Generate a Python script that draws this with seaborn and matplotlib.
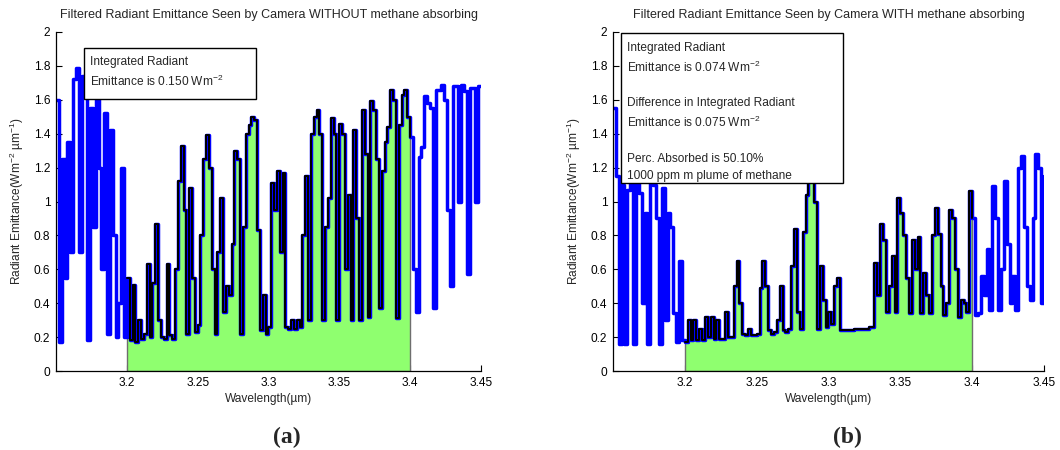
import numpy as np
import pandas as pd
import matplotlib
matplotlib.use("Agg")
import matplotlib.pyplot as plt
import seaborn as sns
from matplotlib.patches import Rectangle
from matplotlib.ticker import FuncFormatter

# ---------------- data ----------------
wavelength = np.round(np.linspace(3.15, 3.45, 151), 3)

emit_without = np.array([
    # 3.150 - 3.200
    1.60, 0.17, 1.25, 0.55, 1.35, 0.70, 1.72, 1.79, 0.70, 1.74,
    1.62, 0.18, 1.55, 0.85, 1.62, 1.20, 0.60, 1.52, 0.22, 1.42,
    0.80, 0.20, 0.40, 1.20, 0.20, 0.55,
    # 3.202 - 3.300
    0.18, 0.51, 0.17, 0.30, 0.19, 0.22, 0.63, 0.20, 0.52, 0.87,
    0.30, 0.20, 0.19, 0.63, 0.21, 0.19, 0.60, 1.12, 1.33, 0.95,
    0.22, 1.08, 0.55, 0.23, 0.27, 0.80, 1.25, 1.39, 1.20, 0.60,
    0.22, 0.70, 1.02, 0.35, 0.50, 0.45, 0.75, 1.30, 1.25, 0.22,
    0.85, 1.40, 1.45, 1.50, 1.48, 0.83, 0.24, 0.45, 0.22, 0.26,
    # 3.302 - 3.450
    1.11, 0.95, 1.18, 0.70, 1.17, 0.26, 0.25, 0.30, 0.25, 0.30,
    0.26, 0.80, 1.15, 0.30, 1.40, 1.50, 1.54, 1.40, 0.30, 0.85,
    1.02, 1.49, 1.40, 0.30, 1.46, 1.40, 0.60, 1.04, 0.30, 1.42,
    0.90, 0.30, 1.54, 1.28, 0.32, 1.59, 1.54, 1.25, 0.37, 1.18,
    1.35, 1.44, 1.66, 1.60, 0.31, 1.45, 1.63, 1.66, 1.50, 1.38,
    0.60, 0.35, 1.26, 1.32, 1.62, 1.58, 1.55, 0.37, 1.66, 1.66,
    1.69, 1.60, 0.95, 0.50, 1.68, 1.68, 1.00, 1.69, 1.65, 0.57,
    1.67, 1.67, 1.00, 1.68, 1.68,
])

emit_with = np.array([
    # 3.150 - 3.200
    1.55, 1.15, 0.16, 1.10, 0.16, 1.07, 1.18, 0.16, 1.18, 1.05,
    0.40, 0.93, 0.16, 1.16, 1.10, 0.90, 0.16, 1.08, 0.30, 0.93,
    0.85, 0.34, 0.17, 0.65, 0.18, 0.17,
    # 3.202 - 3.300
    0.30, 0.18, 0.30, 0.18, 0.25, 0.18, 0.32, 0.20, 0.32, 0.19,
    0.30, 0.19, 0.19, 0.35, 0.20, 0.20, 0.50, 0.65, 0.40, 0.22,
    0.21, 0.25, 0.21, 0.21, 0.22, 0.49, 0.65, 0.50, 0.24, 0.22,
    0.23, 0.30, 0.50, 0.24, 0.23, 0.25, 0.62, 0.84, 0.35, 0.25,
    0.82, 1.04, 1.24, 1.25, 1.00, 0.25, 0.62, 0.42, 0.26, 0.35,
    # 3.302 - 3.450
    0.28, 0.50, 0.55, 0.24, 0.24, 0.24, 0.24, 0.24, 0.245, 0.245,
    0.25, 0.25, 0.25, 0.26, 0.26, 0.64, 0.45, 0.87, 0.77, 0.35,
    0.50, 0.68, 0.35, 1.02, 0.93, 0.80, 0.55, 0.34, 0.77, 0.60,
    0.79, 0.34, 0.58, 0.45, 0.34, 0.80, 0.96, 0.81, 0.50, 0.33,
    0.40, 0.95, 0.90, 0.60, 0.32, 0.42, 0.40, 0.35, 1.06, 0.90,
    0.33, 0.34, 0.56, 0.45, 0.72, 0.36, 1.09, 0.90, 0.36, 0.60,
    1.12, 0.75, 0.40, 0.56, 0.36, 1.20, 1.27, 0.85, 0.50, 0.42,
    0.90, 1.28, 1.20, 0.40, 1.15,
])

filter_band = (3.2, 3.4)
x_ticks = [3.2, 3.25, 3.3, 3.35, 3.4, 3.45]
y_ticks = [0, 0.2, 0.4, 0.6, 0.8, 1.0, 1.2, 1.4, 1.6, 1.8, 2.0]

titles = ["Filtered Radiant Emittance Seen by Camera WITHOUT methane absorbing",
          "Filtered Radiant Emittance Seen by Camera WITH methane absorbing"]
box_texts = [
    ["Integrated Radiant", "Emittance is 0.150 Wm$^{-2}$"],
    ["Integrated Radiant", "Emittance is 0.074 Wm$^{-2}$", "",
     "Difference in Integrated Radiant", "Emittance is 0.075 Wm$^{-2}$", "",
     "Perc. Absorbed is 50.10%", "1000 ppm m plume of methane"],
]
panel_labels = ["(a)", "(b)"]

# ---------------- style ----------------
sns.set_style("ticks")
plt.rcParams["font.family"] = ["Liberation Sans", "DejaVu Sans"]
plt.rcParams["mathtext.default"] = "regular"

W, H = 1060, 450
fig = plt.figure(figsize=(W / 100, H / 100), dpi=100)
fig.patch.set_facecolor("white")

axes_px = [(56, 481, 32, 371), (613, 1044, 32, 371)]
box_px = [
    (84, 256, 48, 99, [62, 81]),
    (621, 843, 33, 183, [48, 67, 85, 103, 122, 140, 159, 176]),
]
label_px = [(287, 437), (847, 437)]

FS = 8.6

for k, (vals, (l, r, t, b)) in enumerate(zip([emit_without, emit_with], axes_px)):
    ax = fig.add_axes([l / W, 1 - b / H, (r - l) / W, (b - t) / H])
    df = pd.DataFrame({"wl": wavelength, "E": vals})
    band = df[(df.wl >= filter_band[0] - 1e-9) & (df.wl <= filter_band[1] + 1e-9)]

    ax.fill_between(band.wl, band.E, step="post", facecolor="#8FFF6F",
                    edgecolor="#6E6E6E", linewidth=1.0, zorder=1)
    sns.lineplot(data=df, x="wl", y="E", color="#0000FF", lw=2.5,
                 drawstyle="steps-post", ax=ax, zorder=2, legend=False,
                 estimator=None)
    sns.lineplot(data=band, x="wl", y="E", color="black", lw=1.45,
                 drawstyle="steps-post", ax=ax, zorder=3, legend=False,
                 estimator=None)

    ax.set_xlim(3.15, 3.45)
    ax.set_ylim(0, 2)
    ax.set_xticks(x_ticks)
    ax.set_yticks(y_ticks)
    ax.xaxis.set_major_formatter(FuncFormatter(lambda v, p: "%g" % round(v, 3)))
    ax.yaxis.set_major_formatter(FuncFormatter(lambda v, p: "%g" % round(v, 3)))
    sns.despine(ax=ax)
    for s in ("left", "bottom"):
        ax.spines[s].set_color("black")
        ax.spines[s].set_linewidth(0.9)
    ax.tick_params(direction="in", length=4, width=0.8, labelsize=FS,
                   colors="black", pad=4)
    ax.set_xlabel("Wavelength(µm)", fontsize=FS, labelpad=3)
    ax.set_ylabel("Radiant Emittance(Wm$^{-2}$ µm$^{-1}$)", fontsize=FS, labelpad=6)
    ax.set_title(titles[k], fontsize=9, pad=10)

    # text box
    x0, x1, y0, y1, line_y = box_px[k]
    fig.add_artist(Rectangle((x0 / W, 1 - y1 / H), (x1 - x0) / W, (y1 - y0) / H,
                             transform=fig.transFigure, facecolor="white",
                             edgecolor="black", lw=1.0, zorder=5))
    for txt, ly in zip(box_texts[k], line_y):
        if txt:
            fig.text((x0 + 6) / W, 1 - ly / H, txt, fontsize=FS, ha="left",
                     va="center", zorder=6)

    lx, ly = label_px[k]
    fig.text(lx / W, 1 - ly / H, panel_labels[k], fontsize=17, fontweight="bold",
             family=["Liberation Serif", "DejaVu Serif"], ha="center", va="center")

fig.savefig("out.png", dpi=100, facecolor="white")
